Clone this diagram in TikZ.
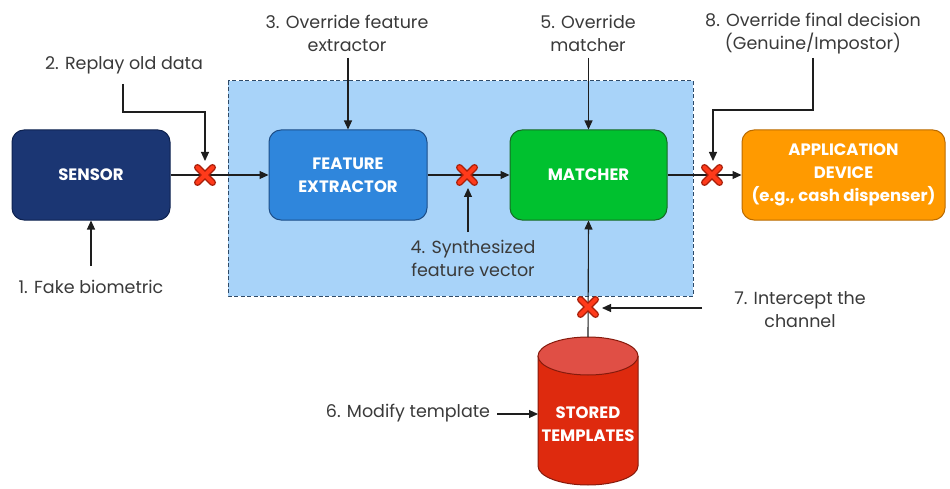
\documentclass[tikz,border=0pt]{standalone}
\usepackage{fontspec}
\setmainfont{Poppins}
\usetikzlibrary{arrows.meta}
\definecolor{sensorfill}{HTML}{1B3673}
\definecolor{sensorline}{HTML}{0E2250}
\definecolor{fefill}{HTML}{2F86DC}
\definecolor{feline}{HTML}{1D4E88}
\definecolor{matchfill}{HTML}{00C12F}
\definecolor{matchline}{HTML}{186A26}
\definecolor{appfill}{HTML}{FF9A00}
\definecolor{appline}{HTML}{B96A00}
\definecolor{regionfill}{HTML}{A8D3F9}
\definecolor{regionline}{HTML}{2E4A68}
\definecolor{cylbody}{HTML}{DE2A0E}
\definecolor{cyltop}{HTML}{E04F45}
\definecolor{cylline}{HTML}{861A0C}
\definecolor{xred}{HTML}{FF3A1A}
\definecolor{xdark}{HTML}{A81F0A}
\definecolor{lblgray}{HTML}{3A3A3A}
\definecolor{linecol}{HTML}{1E1E1E}
\tikzset{
  box/.style={rounded corners=12pt, draw=#1line, fill=#1fill, line width=1pt,
    minimum height=90pt, text=white, align=center, inner sep=0pt,
    font=\bfseries\fontsize{16.5}{23}\selectfont},
  lbl/.style={text=lblgray, align=center, inner sep=0pt,
    font=\fontsize{17.5}{23}\selectfont},
  arr/.style={draw=linecol, line width=1.1pt, -{Triangle[length=9pt,width=8pt]}},
  xmark/.pic={
    \draw[line width=7pt, xdark, line cap=round] (-7.5,-7.5) -- (7.5,7.5) (-7.5,7.5) -- (7.5,-7.5);
    \draw[line width=4.2pt, xred, line cap=round] (-7.5,-7.5) -- (7.5,7.5) (-7.5,7.5) -- (7.5,-7.5);
  }
}
\begin{document}
\begin{tikzpicture}[x=1pt,y=-1pt]
\useasboundingbox (0,0) rectangle (950,489);
\fill[white] (0,0) rectangle (950,489);
% region
\draw[regionline, fill=regionfill, dash pattern=on 4pt off 2.5pt, line width=1pt] (228,81) rectangle (693,296);
% boxes
\node[box=sensor, minimum width=158pt] (sensor) at (91,175) {SENSOR};
\node[box=fe, minimum width=158pt] (fe) at (348,175) {FEATURE\\EXTRACTOR};
\node[box=match, minimum width=157pt] (matcher) at (588.5,175) {MATCHER};
\node[box=app, minimum width=203pt] (app) at (843.5,175) {APPLICATION\\DEVICE\\(e.g., cash dispenser)};
% cylinder
\filldraw[fill=cylbody, draw=cylline, line width=1pt] (538,356) -- (538,466)
  arc[start angle=180, end angle=0, x radius=50, y radius=19] -- (638,356);
\filldraw[fill=cyltop, draw=cylline, line width=1pt] (588,356) ellipse [x radius=50, y radius=19];
\node[text=white, align=center, font=\bfseries\fontsize{16.5}{23}\selectfont] (stored) at (588,424) {STORED\\TEMPLATES};
\coordinate (cyltopc) at (588,337);
\coordinate (cylleft) at (538,414);
% x positions
\coordinate (x1) at (205,175);
\coordinate (x2) at (467,175);
\coordinate (x3) at (712,175);
\coordinate (x4) at (588,307);
% main flow
\draw[arr] (sensor.east) -- (fe.west);
\draw[arr] (fe.east) -- (matcher.west);
\draw[arr] (matcher.east) -- (app.west);
\draw[arr] (cyltopc) -- (matcher.south);
% labels
\node[lbl] (l1) at (91,287) {1. Fake biometric};
\node[lbl] (l2) at (124,65) {2. Replay old data};
\node[lbl] (l3) at (347,33.5) {3. Override feature\\extractor};
\node[lbl] (l4) at (473,258.5) {4. Synthesized\\feature vector};
\node[lbl] (l5) at (588,33.5) {5. Override\\matcher};
\node[lbl] (l6) at (408,413) {6. Modify template};
\node[lbl] (l7) at (800,310) {7. Intercept the\\channel};
\node[lbl] (l8) at (813,33.5) {8. Override final decision\\(Genuine/Impostor)};
% attack arrows
\coordinate (c1) at (91,266);
\draw[arr] (c1) -- (sensor.south);
\coordinate (c2) at (123,84);
\coordinate (c2b) at (205,112);
\coordinate (x1t) at (205,161);
\draw[arr] (c2) |- (c2b) -- (x1t);
\coordinate (c3) at (348,58);
\draw[arr] (c3) -- (fe.north);
\coordinate (c4) at (468,232);
\coordinate (x2b) at (468,188);
\draw[arr] (c4) -- (x2b);
\coordinate (c5) at (588.5,58);
\draw[arr] (c5) -- (matcher.north);
\coordinate (c6) at (497,414);
\draw[arr] (c6) -- (cylleft);
\coordinate (c7) at (702,308);
\coordinate (x4r) at (602,308);
\draw[arr] (c7) -- (x4r);
\coordinate (c8) at (813,58);
\coordinate (c8b) at (713,110);
\coordinate (x3t) at (713,161);
\draw[arr] (c8) |- (c8b) -- (x3t);
% x marks
\pic at (x1) {xmark};
\pic at (x2) {xmark};
\pic at (x3) {xmark};
\pic at (x4) {xmark};
\end{tikzpicture}
\end{document}
